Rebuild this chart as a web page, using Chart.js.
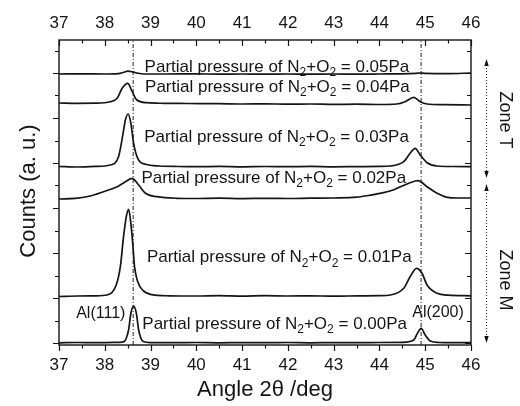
<!DOCTYPE html>
<html>
<head>
<meta charset="utf-8">
<script src="https://cdn.jsdelivr.net/npm/chart.js@4.4.1/dist/chart.umd.min.js"></script>
<style>
  html, body { margin: 0; padding: 0; background: #fff; }
  canvas { display: block; }
</style>
</head>
<body>
<canvas id="c" width="520" height="406"></canvas>
<script>
// XRD patterns of Al films at different N2+O2 partial pressures (curves stacked with offsets)
const FONT = "'Liberation Sans', Arial, Helvetica, sans-serif";
const INK = '#151515';

// axis ticks
const angleTickValues = [37, 37.5, 38, 38.5, 39, 39.5, 40, 40.5, 41, 41.5, 42, 42.5, 43, 43.5, 44, 44.5, 45, 45.5, 46];
const countTickValues = [0, 225, 450, 675, 900, 1125, 1350, 1575, 1800, 2025, 2250, 2475, 2700, 2925];

// reference peak positions: Al(111), Al(200)
const peakPositions = [38.62, 44.91];
const peakNames = ['Al(111)', 'Al(200)'];

// pressure labels
const pressureLabels = ['0.00Pa', '0.01Pa', '0.02Pa', '0.03Pa', '0.04Pa', '0.05Pa'];

// 0.00 Pa
const angle000 = [37.00, 37.40, 37.80, 38.20, 38.41, 38.52, 38.57, 38.63, 38.69, 38.74, 38.84, 39.00, 39.50, 40.00, 40.50, 41.00, 41.50, 42.00, 42.50, 43.00, 43.50, 44.00, 44.50, 44.75, 44.83, 44.91, 45.00, 45.11, 45.30, 45.60, 46.00];
const count000 = [2, 5, 3, 6, 12, 130, 297, 370, 297, 130, 15, 4, 3, 5, 2, 4, 3, 5, 2, 4, 3, 5, 6, 30, 97, 147, 80, 20, 5, 3, 4];

// 0.01 Pa
const angle001 = [37.00, 37.40, 37.80, 38.05, 38.25, 38.34, 38.41, 38.47, 38.52, 38.57, 38.61, 38.65, 38.72, 38.84, 39.03, 39.40, 40.00, 40.50, 41.00, 41.50, 42.00, 42.50, 43.00, 43.50, 44.00, 44.24, 44.53, 44.67, 44.81, 44.93, 45.04, 45.26, 45.50, 46.00];
const count001 = [465, 470, 472, 480, 580, 763, 1063, 1263, 1337, 1197, 997, 763, 613, 523, 483, 472, 470, 474, 469, 473, 470, 472, 468, 471, 474, 480, 547, 663, 747, 697, 580, 497, 478, 472];

// 0.02 Pa
const angle002 = [37.00, 37.40, 37.68, 37.97, 38.27, 38.45, 38.60, 38.74, 38.89, 39.14, 39.58, 40.00, 40.50, 41.00, 41.50, 42.00, 42.50, 43.00, 43.50, 43.80, 44.09, 44.30, 44.46, 44.67, 44.84, 45.04, 45.26, 45.48, 45.70, 46.00];
const count002 = [1440, 1448, 1470, 1513, 1563, 1613, 1647, 1580, 1497, 1463, 1447, 1445, 1448, 1444, 1447, 1445, 1448, 1450, 1458, 1478, 1503, 1530, 1563, 1603, 1623, 1563, 1497, 1457, 1450, 1450];

// 0.03 Pa
const angle003 = [37.00, 37.40, 37.80, 38.12, 38.30, 38.40, 38.45, 38.51, 38.57, 38.63, 38.72, 38.89, 39.20, 39.60, 40.00, 40.50, 41.00, 41.50, 42.00, 42.50, 43.00, 43.50, 44.00, 44.24, 44.53, 44.67, 44.78, 44.89, 45.04, 45.26, 45.60, 46.00];
const count003 = [1765, 1760, 1766, 1780, 1863, 2097, 2230, 2290, 2197, 1997, 1847, 1787, 1770, 1765, 1763, 1766, 1762, 1765, 1763, 1766, 1762, 1764, 1766, 1770, 1813, 1897, 1947, 1880, 1803, 1770, 1765, 1763];

// 0.04 Pa
const angle004 = [37.00, 37.40, 37.80, 38.12, 38.27, 38.38, 38.50, 38.60, 38.70, 38.92, 39.30, 39.80, 40.50, 41.00, 41.50, 42.00, 42.50, 43.00, 43.50, 44.00, 44.38, 44.56, 44.75, 44.89, 45.04, 45.40, 46.00];
const count004 = [2400, 2397, 2398, 2413, 2447, 2547, 2597, 2513, 2430, 2403, 2397, 2395, 2393, 2390, 2392, 2388, 2390, 2386, 2388, 2385, 2390, 2413, 2457, 2413, 2390, 2383, 2380];

// 0.05 Pa
const angle005 = [37.00, 37.50, 38.00, 38.30, 38.42, 38.50, 38.60, 38.72, 38.85, 39.30, 40.00, 40.50, 41.00, 41.50, 42.00, 42.50, 43.00, 43.50, 44.00, 44.50, 44.80, 44.90, 45.00, 45.50, 46.00];
const count005 = [2690, 2692, 2690, 2693, 2708, 2718, 2712, 2698, 2690, 2690, 2691, 2689, 2690, 2688, 2690, 2689, 2690, 2688, 2690, 2692, 2697, 2700, 2696, 2694, 2700];

const seriesAngles = [angle000, angle001, angle002, angle003, angle004, angle005];
const seriesCounts = [count000, count001, count002, count003, count004, count005];

const pairs = (xs, ys) => xs.map((v, i) => ({ x: v, y: ys[i] }));

const datasets = seriesAngles.map((xs, i) => ({
  label: pressureLabels[i],
  data: pairs(xs, seriesCounts[i]),
  borderColor: INK,
  borderWidth: 1.7,
  pointRadius: 0,
  cubicInterpolationMode: 'monotone',
  fill: false
}));

// dash-dot reference lines through the Al peaks
peakPositions.forEach((p, i) => {
  datasets.push({
    label: peakNames[i],
    data: [{ x: p, y: -20 }, { x: p, y: 3030 }],
    borderColor: '#222',
    borderWidth: 1,
    borderDash: [4, 2, 1, 2],
    pointRadius: 0,
    fill: false
  });
});

function drawRich(ctx, parts, x, y, size) {
  let cx = x;
  parts.forEach(p => {
    if (p.sub) {
      ctx.font = Math.round(size * 0.7) + 'px ' + FONT;
      ctx.fillText(p.t, cx, y + size * 0.25);
    } else {
      ctx.font = size + 'px ' + FONT;
      ctx.fillText(p.t, cx, y);
    }
    cx += ctx.measureText(p.t).width;
  });
}

function vArrow(ctx, x, y1, y2) {
  ctx.save();
  ctx.strokeStyle = '#222';
  ctx.lineWidth = 1;
  ctx.setLineDash([1, 2]);
  ctx.beginPath();
  ctx.moveTo(x, y1 + 6);
  ctx.lineTo(x, y2 - 6);
  ctx.stroke();
  ctx.setLineDash([]);
  ctx.fillStyle = '#111';
  ctx.beginPath();
  ctx.moveTo(x, y1); ctx.lineTo(x - 2.2, y1 + 7); ctx.lineTo(x + 2.2, y1 + 7); ctx.closePath();
  ctx.moveTo(x, y2); ctx.lineTo(x - 2.2, y2 - 7); ctx.lineTo(x + 2.2, y2 - 7); ctx.closePath();
  ctx.fill();
  ctx.restore();
}

const decorations = {
  id: 'decorations',
  afterDraw(chart) {
    const { ctx, chartArea: a, scales } = chart;
    const x = scales.x, y = scales.y;
    ctx.save();

    // frame
    ctx.strokeStyle = INK;
    ctx.lineWidth = 1.4;
    ctx.strokeRect(a.left, a.top, a.right - a.left, a.bottom - a.top);

    // tick marks: bottom/left outward, top/right inward
    ctx.lineWidth = 1.2;
    ctx.beginPath();
    angleTickValues.forEach(v => {
      const px = Math.round(x.getPixelForValue(v)) + 0.5;
      const len = Number.isInteger(v) ? 6 : 3.5;
      ctx.moveTo(px, a.bottom); ctx.lineTo(px, a.bottom + len);
      ctx.moveTo(px, a.top); ctx.lineTo(px, a.top + len);
    });
    countTickValues.forEach(v => {
      const py = Math.round(y.getPixelForValue(v)) + 0.5;
      const len = v % 450 === 0 ? 6 : 4;
      ctx.moveTo(a.left - len, py); ctx.lineTo(a.left, py);
      ctx.moveTo(a.right - len, py); ctx.lineTo(a.right, py);
    });
    ctx.stroke();

    // pressure labels
    ctx.fillStyle = INK;
    ctx.textAlign = 'left';
    ctx.textBaseline = 'alphabetic';
    const labelSpots = [
      [38.82, 140], [38.92, 807], [38.80, 1603], [38.86, 2013], [38.88, 2513], [38.87, 2710]
    ];
    pressureLabels.forEach((lab, i) => {
      const [lx, ly] = labelSpots[i];
      drawRich(ctx, [
        { t: 'Partial pressure of N' }, { t: '2', sub: true },
        { t: '+O' }, { t: '2', sub: true }, { t: ' = ' + lab }
      ], x.getPixelForValue(lx), y.getPixelForValue(ly), 17);
    });

    // peak names
    ctx.font = '16px ' + FONT;
    ctx.textAlign = 'right';
    ctx.fillText(peakNames[0], x.getPixelForValue(38.45), y.getPixelForValue(250));
    ctx.textAlign = 'center';
    ctx.fillText(peakNames[1], x.getPixelForValue(45.28), y.getPixelForValue(260));

    // axis titles
    ctx.font = '22px ' + FONT;
    ctx.textAlign = 'center';
    ctx.fillText('Angle 2\u03B8 /deg', (a.left + a.right) / 2 + 0, 396);
    ctx.save();
    ctx.translate(35, 191);
    ctx.rotate(-Math.PI / 2);
    ctx.fillText('Counts (a. u.)', 0, 0);
    ctx.restore();

    // zone markers
    vArrow(ctx, 486.5, 59, 178);
    vArrow(ctx, 486.5, 184, 343);
    ctx.font = '18px ' + FONT;
    ctx.textAlign = 'center';
    [['Zone T', 120], ['Zone M', 280]].forEach(([t, cy]) => {
      ctx.save();
      ctx.translate(500, cy);
      ctx.rotate(Math.PI / 2);
      ctx.fillText(t, 0, 0);
      ctx.restore();
    });
    ctx.restore();
  }
};

const tickFont = { family: FONT, size: 17 };

new Chart(document.getElementById('c'), {
  type: 'line',
  data: { datasets },
  options: {
    responsive: false,
    animation: false,
    events: [],
    layout: { padding: 0 },
    plugins: { legend: { display: false }, tooltip: { enabled: false } },
    scales: {
      x: {
        type: 'linear', position: 'bottom', min: 37, max: 46,
        ticks: { stepSize: 1, font: tickFont, color: INK, padding: 10, callback: v => String(v) },
        grid: { display: false, drawTicks: false },
        border: { display: false },
        afterFit: s => { s.height = 61; }
      },
      x2: {
        type: 'linear', position: 'top', min: 37, max: 46,
        ticks: { stepSize: 1, font: tickFont, color: INK, padding: 6, callback: v => String(v) },
        grid: { display: false, drawTicks: false },
        border: { display: false },
        afterFit: s => { s.height = 40; }
      },
      y: {
        type: 'linear', position: 'left', min: -20, max: 3030,
        ticks: { display: false, stepSize: 225 },
        grid: { display: false, drawTicks: false },
        border: { display: false },
        afterFit: s => { s.width = 59; }
      },
      y2: {
        type: 'linear', position: 'right', min: -20, max: 3030,
        ticks: { display: false, stepSize: 225 },
        grid: { display: false, drawTicks: false },
        border: { display: false },
        afterFit: s => { s.width = 49; }
      }
    }
  },
  plugins: [decorations]
});
</script>
</body>
</html>
